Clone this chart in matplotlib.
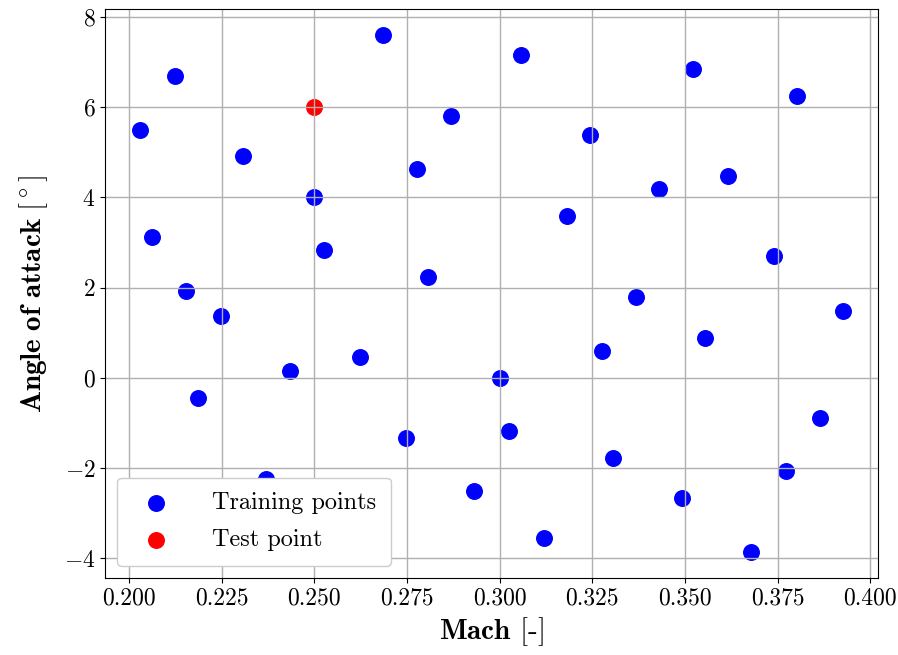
import matplotlib
matplotlib.use("Agg")
import matplotlib.pyplot as plt

plt.rcParams['font.family'] = 'serif'
plt.rcParams['font.serif'] = ['cmr10']
plt.rcParams['mathtext.fontset'] = 'cm'
plt.rcParams['axes.formatter.use_mathtext'] = True
plt.rcParams['axes.unicode_minus'] = True

# training samples (Mach, angle of attack in degrees)
mach_train = [0.2030, 0.2124, 0.2062, 0.2154, 0.2186, 0.2249, 0.2308, 0.2370,
              0.2435, 0.2500, 0.2527, 0.2622, 0.2684, 0.2746, 0.2776, 0.2808,
              0.2870, 0.2932, 0.3000, 0.3024, 0.3057, 0.3119, 0.3181, 0.3243,
              0.3276, 0.3305, 0.3368, 0.3430, 0.3492, 0.3522, 0.3554, 0.3616,
              0.3678, 0.3740, 0.3773, 0.3803, 0.3865, 0.3927]
aoa_train = [5.50, 6.69, 3.13, 1.93, -0.44, 1.36, 4.91, -2.24,
             0.16, 4.00, 2.84, 0.47, 7.60, -1.33, 4.62, 2.24,
             5.80, -2.51, 0.00, -1.18, 7.16, -3.56, 3.58, 5.38,
             0.60, -1.78, 1.80, 4.18, -2.67, 6.84, 0.89, 4.47,
             -3.86, 2.69, -2.07, 6.24, -0.89, 1.49]

mach_test = [0.25]
aoa_test = [6.0]

fig = plt.figure(figsize=(8.98, 6.55), dpi=100)
ax = fig.add_axes([0.117, 0.118, 0.861, 0.868])
ax.scatter(mach_train, aoa_train, s=125, color='blue', label='Training points')
ax.scatter(mach_test, aoa_test, s=125, color='red', label='Test point')
ax.grid(True, color='#b0b0b0', linewidth=1.0)
ax.set_xlabel(r'$\mathbf{Mach}$ [-]', fontsize=21)
ax.set_ylabel(r'$\mathbf{Angle\ of\ attack}\ [^\circ]$', fontsize=21, labelpad=10)
ax.tick_params(labelsize=17)
ax.set_xticks([0.2, 0.225, 0.25, 0.275, 0.3, 0.325, 0.35, 0.375, 0.4])
ax.set_xticklabels(['0.200', '0.225', '0.250', '0.275', '0.300', '0.325', '0.350', '0.375', '0.400'])
leg = ax.legend(loc='lower left', fontsize=17.5, framealpha=1.0,
                handletextpad=1.3, borderpad=0.6, labelspacing=0.6)

fig.savefig('out.png')
